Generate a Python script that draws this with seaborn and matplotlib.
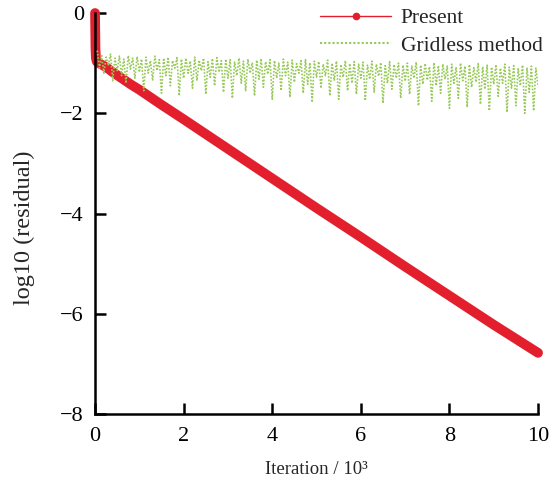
import numpy as np
import pandas as pd
import matplotlib
matplotlib.use("Agg")
import matplotlib.pyplot as plt
import seaborn as sns
from matplotlib.lines import Line2D

# Present method: log10(residual) vs iteration (x 10^3)
present_iter = [0, 0.005, 0.01, 0.02, 0.04, 0.08, 0.15, 0.25, 0.4, 0.6, 0.8, 1.0,
                1.5, 2, 3, 4, 5, 6, 7, 8, 9, 10]
present_res = [0, -0.35, -0.7, -0.9, -0.97, -1.0, -1.03, -1.08, -1.18, -1.3, -1.42, -1.53,
               -1.83, -2.12, -2.71, -3.30, -3.89, -4.47, -5.06, -5.64, -6.22, -6.78]

# Gridless method: noisy residual history, read row by row (one row per 10^3 iterations)
gridless_res = [
    -0.75, -1.10, -0.85, -1.20, -0.88, -1.05, -0.82, -1.35, -0.90, -1.15, -0.86, -1.25, -0.92, -1.40, -0.85, -1.12, -0.90, -1.30, -0.87, -1.18,
    -0.92, -1.55, -0.88, -1.20, -0.95, -1.35, -0.86, -1.15, -0.93, -1.60, -0.90, -1.25, -0.88, -1.45, -0.95, -1.10, -0.89, -1.65, -0.92, -1.30,
    -0.90, -1.20, -0.96, -1.50, -0.88, -1.35, -0.94, -1.15, -0.90, -1.62, -0.97, -1.28, -0.91, -1.45, -0.89, -1.18, -0.95, -1.58, -0.92, -1.30,
    -0.93, -1.70, -0.98, -1.25, -0.90, -1.40, -0.96, -1.55, -0.92, -1.20, -0.99, -1.65, -0.94, -1.32, -0.91, -1.48, -0.97, -1.22, -0.93, -1.72,
    -0.95, -1.30, -1.00, -1.55, -0.92, -1.25, -0.98, -1.68, -0.94, -1.38, -1.01, -1.20, -0.95, -1.60, -0.93, -1.42, -0.99, -1.78, -0.96, -1.28,
    -0.97, -1.50, -1.02, -1.25, -0.94, -1.65, -1.00, -1.35, -0.96, -1.72, -1.03, -1.28, -0.95, -1.55, -1.01, -1.40, -0.97, -1.62, -1.02, -1.30,
    -0.98, -1.75, -1.04, -1.32, -0.96, -1.58, -1.02, -1.26, -0.99, -1.80, -1.05, -1.40, -0.97, -1.52, -1.03, -1.30, -1.00, -1.70, -1.04, -1.36,
    -1.00, -1.62, -1.06, -1.30, -0.98, -1.85, -1.04, -1.42, -1.01, -1.34, -1.07, -1.76, -0.99, -1.45, -1.05, -1.60, -1.02, -1.32, -1.06, -1.90,
    -1.02, -1.40, -1.08, -1.70, -1.00, -1.35, -1.06, -1.88, -1.03, -1.48, -1.09, -1.38, -1.01, -1.82, -1.07, -1.52, -1.04, -1.95, -1.08, -1.42,
    -1.03, -1.66, -1.10, -1.40, -1.02, -1.98, -1.08, -1.50, -1.05, -1.85, -1.11, -1.45, -1.04, -2.00, -1.09, -1.58, -1.06, -1.95, -1.10, -1.45,
]
gridless_iter = np.linspace(0.05, 10, len(gridless_res))

x_ticks = [0, 2, 4, 6, 8, 10]
y_ticks = [0, -2, -4, -6, -8]

red = "#e31e2d"
green = "#96c956"

sns.set_theme(style="ticks")
plt.rcParams["font.family"] = ["Liberation Serif", "DejaVu Serif"]

present = pd.DataFrame({"iter": present_iter, "res": present_res})
gridless = pd.DataFrame({"iter": gridless_iter, "res": gridless_res})

fig = plt.figure(figsize=(5.57, 4.82), dpi=100)
ax = fig.add_axes([0.1706, 0.141, 0.7954, 0.832])

sns.lineplot(data=present, x="iter", y="res", ax=ax, color=red,
             linewidth=7.0, estimator=None, sort=False, clip_on=False, zorder=2)
sns.lineplot(data=gridless, x="iter", y="res", ax=ax, color=green,
             linestyle=(0, (1, 1)), linewidth=1.2, estimator=None, sort=False, zorder=3)

ax.set_xlim(0, 10)
ax.set_ylim(-8, 0)
ax.set_xticks(x_ticks)
ax.set_yticks(y_ticks)
ax.set_xlabel("Iteration / 10³", fontsize=13.5, labelpad=11)
ax.set_ylabel("log10 (residual)", fontsize=17.5)
ax.yaxis.set_label_coords(-0.136, 0.464)
ax.tick_params(direction="in", length=8, width=1.8, labelsize=16, colors="black")
ax.tick_params(axis="x", pad=9)
ax.tick_params(axis="y", pad=8)
sns.despine(ax=ax)
for s in ["left", "bottom"]:
    ax.spines[s].set_linewidth(1.8)
    ax.spines[s].set_color("black")

handles = [
    Line2D([], [], color=red, linewidth=1.0, marker="o", markersize=4.5, markevery=[1]),
    Line2D([], [], color=green, linewidth=1.5, linestyle=(0, (1, 1))),
]
ax.legend(handles, ["Present", "Gridless method"], loc="upper right",
          bbox_to_anchor=(1.054, 1.06), frameon=False, fontsize=15.5,
          handlelength=3.3, handletextpad=0.45, labelspacing=0.35)

fig.savefig("out.png", dpi=100)
